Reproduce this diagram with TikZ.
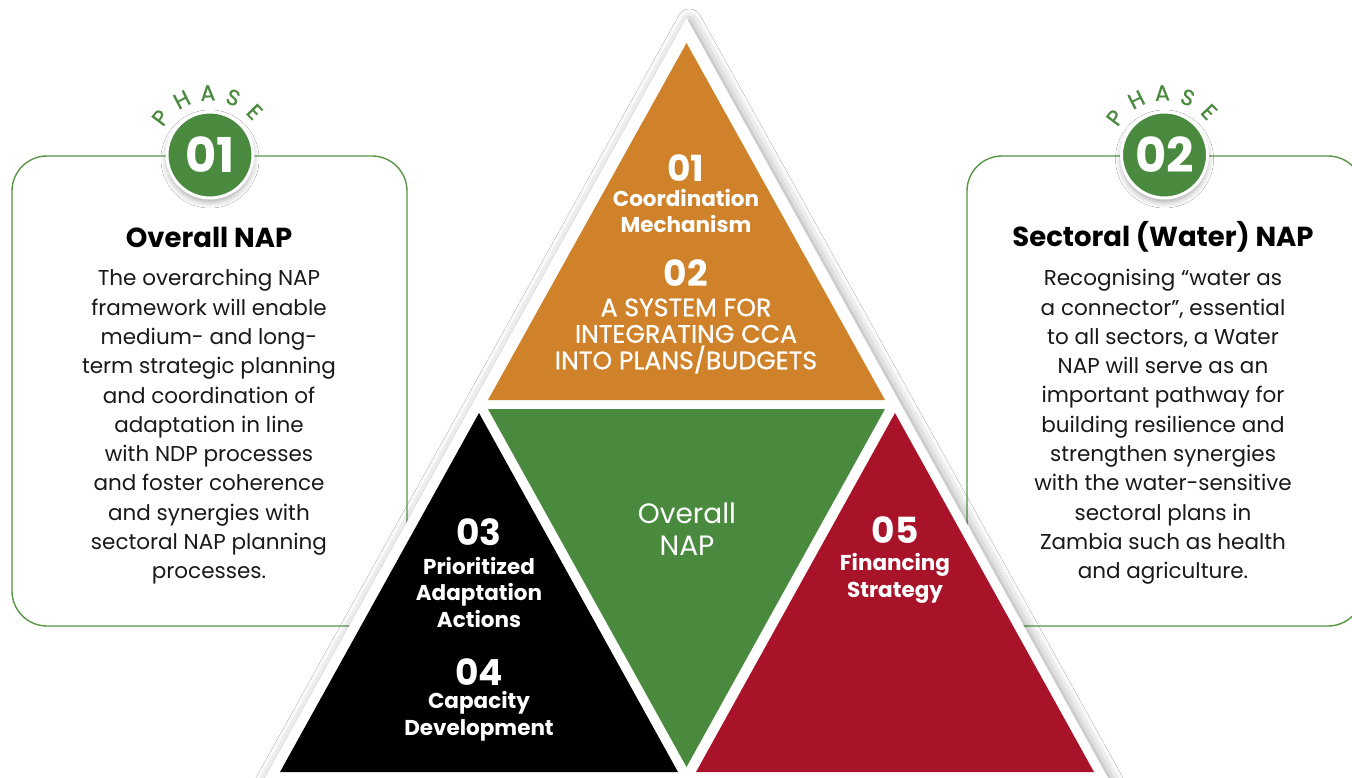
\documentclass[tikz,border=0pt]{standalone}
\usepackage{fontspec}
\setmainfont{Poppins}
\newfontfamily\medfont{Poppins}[FakeBold=0.8]
\usetikzlibrary{shadows.blur,calc}
\definecolor{orng}{RGB}{207,130,41}
\definecolor{grn}{RGB}{74,138,62}
\definecolor{rd}{RGB}{168,19,42}
\definecolor{boxline}{RGB}{88,150,72}
\definecolor{bodytxt}{RGB}{25,25,25}
\begin{document}
\begin{tikzpicture}[x=1pt,y=-1pt,
  infobox/.style={draw=boxline, line width=1.4pt, rounded corners=35pt, inner sep=0pt},
  badge/.style={circle, fill=grn, draw=white, line width=3pt, minimum size=86pt, inner sep=0pt,
    text=white, font=\bfseries\fontsize{48}{48}\selectfont,
    blur shadow={shadow xshift=0pt, shadow yshift=-4pt, shadow blur radius=6pt, shadow opacity=35}},
  phaseletter/.style={text=grn, font=\medfont\fontsize{22}{22}\selectfont, inner sep=0pt},
  heading/.style={text=black, font=\bfseries\fontsize{27.5}{27.5}\selectfont, inner sep=0pt},
  bodytext/.style={text=bodytxt, align=center, font=\fontsize{21.5}{29.3}\selectfont, inner sep=0pt},
  numtxt/.style={text=white, font=\bfseries\fontsize{36}{36}\selectfont, inner sep=0pt},
  labtxt/.style={text=white, align=center, font=\bfseries\fontsize{21.5}{26.5}\selectfont, inner sep=0pt},
  captxt/.style={text=white, align=center, font=\medfont\fontsize{25.2}{26.5}\selectfont, inner sep=0pt},
  centertxt/.style={text=white, align=center, font=\fontsize{28}{32}\selectfont, inner sep=0pt}
]
\useasboundingbox (0,0) rectangle (1352,778);
\fill[white] (0,0) rectangle (1352,778);

% info boxes
\node[infobox, minimum width=395pt, minimum height=470pt] (box1) at (209.5,391) {};
\node[infobox, minimum width=396pt, minimum height=470pt] (box2) at (1165,391) {};

% badges
\node[badge] (c1) at (210,155) {01};
\node[badge] (c2) at (1164.5,155) {02};
\foreach \L/\a [count=\i] in {P/143,H/117,A/92,S/68,E/44}{
  \node[phaseletter, rotate=\a-90] (pa\i) at ($(c1)+(-\a:62)$) {\L};
  \node[phaseletter, rotate=\a-90] (pb\i) at ($(c2)+(-\a:62)$) {\L};
}

% headings and text
\node[heading] (h1) at (209,237) {Overall NAP};
\node[bodytext] (t1) at (209,427) {The overarching NAP\\framework will enable\\medium- and long-\\term strategic planning\\and coordination of\\adaptation in line\\with NDP processes\\and foster coherence\\and synergies with\\sectoral NAP planning\\processes.};
\node[heading] (h2) at (1163,237) {Sectoral (Water) NAP};
\node[bodytext] (t2) at (1163,427) {Recognising “water as\\a connector”, essential\\to all sectors, a Water\\NAP will serve as an\\important pathway for\\building resilience and\\strengthen synergies\\with the water-sensitive\\sectoral plans in\\Zambia such as health\\and agriculture.};

% pyramid
\path[fill=white, blur shadow={shadow xshift=3pt, shadow yshift=-3pt, shadow blur radius=12pt, shadow opacity=40}]
  (686.5,18) -- (250,805) -- (1123,805) -- cycle;
\fill[orng] (686.5,43) -- (488,400) -- (885,400) -- cycle;
\fill[grn] (488,409) -- (885,409) -- (686.5,767) -- cycle;
\fill[black] (479,413) -- (280,772) -- (678,772) -- cycle;
\fill[rd] (895,413) -- (696,772) -- (1094,772) -- cycle;

\node[numtxt] (n1) at (686,168) {01};
\node[labtxt] (l1) at (686,211) {Coordination\\Mechanism};
\node[numtxt] (n2) at (686,273) {02};
\node[captxt] (l2) at (686,336) {A SYSTEM FOR\\INTEGRATING CCA\\INTO PLANS/BUDGETS};
\node[numtxt] (n3) at (479,532) {03};
\node[labtxt] (l3) at (479,592) {Prioritized\\Adaptation\\Actions};
\node[numtxt] (n4) at (479,672) {04};
\node[labtxt] (l4) at (479,716) {Capacity\\Development};
\node[numtxt] (n5) at (895,530) {05};
\node[labtxt] (l5) at (895,578.5) {Financing\\Strategy};
\node[centertxt] (ov) at (687,529) {Overall\\NAP};
\end{tikzpicture}
\end{document}
